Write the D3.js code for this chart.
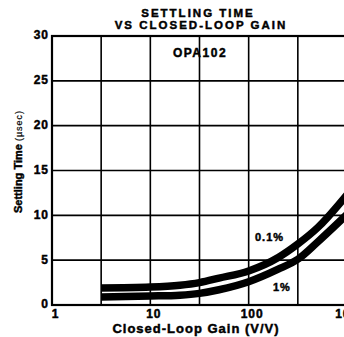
<!DOCTYPE html>
<html>
<head>
<meta charset="utf-8">
<script src="https://cdn.jsdelivr.net/npm/d3@7"></script>
<style>
  body { margin: 0; background: #fff; }
  svg { display: block; font-family: "Liberation Sans", Arial, sans-serif; font-weight: bold; }
  svg text { stroke: #000; stroke-width: 0.45px; }
  .axis path { display: none; }
  .axis text { font-size: 12px; font-weight: bold; fill: #000; letter-spacing: 1px; font-family: "Liberation Sans", Arial, sans-serif; }
</style>
</head>
<body>
<div class="chart"></div>
<script>
// values
const gain = [3.162, 10, 20, 31.62, 50, 100, 200, 316.2, 500, 1000];
const settle01 = [1.9, 2.0, 2.2, 2.5, 3.0, 3.8, 5.3, 6.8, 8.6, 12.3];   // 0.1%
const settle1 = [0.9, 1.0, 1.1, 1.3, 1.7, 2.6, 4.0, 5.1, 7.0, 10.1];    // 1%
const xTicks = [1, 10, 100, 1000];
const xGrid = [1, 3.162, 10, 31.62, 100, 316.2, 1000];
const yTicks = [0, 5, 10, 15, 20, 25, 30];

const width = 344, height = 337;

const svg = d3.select('.chart').append('svg')
    .attr('width', width)
    .attr('height', height);

const xScale = d3.scaleLog().domain([1, 1000]).range([52, 347]);
const yScale = d3.scaleLinear().domain([0, 30]).range([305, 36]);

// grid
svg.append('g').selectAll('line')
    .data(xGrid)
    .enter().append('line')
    .attr('x1', d => xScale(d)).attr('x2', d => xScale(d))
    .attr('y1', yScale(0)).attr('y2', yScale(30))
    .attr('stroke', '#000').attr('stroke-width', 1.6);

svg.append('g').selectAll('line')
    .data(yTicks)
    .enter().append('line')
    .attr('x1', xScale(1)).attr('x2', xScale(1000))
    .attr('y1', d => yScale(d)).attr('y2', d => yScale(d))
    .attr('stroke', '#000').attr('stroke-width', 1.6);

// border
svg.append('rect')
    .attr('x', xScale(1)).attr('y', yScale(30))
    .attr('width', xScale(1000) - xScale(1))
    .attr('height', yScale(0) - yScale(30))
    .attr('fill', 'none').attr('stroke', '#000').attr('stroke-width', 2.2);

// curves
const line = d3.line()
    .x(d => xScale(d[0]))
    .y(d => yScale(d[1]))
    .curve(d3.curveMonotoneX);

[settle01, settle1].forEach(s => {
    svg.append('path')
        .datum(gain.map((g, i) => [g, s[i]]))
        .attr('d', line)
        .attr('fill', 'none')
        .attr('stroke', '#000')
        .attr('stroke-width', 7.5);
});

// axes
const xAxis = d3.axisBottom(xScale)
    .tickValues(xTicks)
    .tickSize(0)
    .tickPadding(4)
    .tickFormat(d3.format('d'));

svg.append('g')
    .attr('class', 'axis x-axis')
    .attr('transform', `translate(3, ${yScale(0)})`)
    .call(xAxis);

const yAxis = d3.axisLeft(yScale)
    .tickValues(yTicks)
    .tickSize(0)
    .tickPadding(3);

svg.append('g')
    .attr('class', 'axis y-axis')
    .attr('transform', `translate(${xScale(1)}, -1)`)
    .call(yAxis);

// titles
svg.append('text')
    .attr('x', 198).attr('y', 17)
    .attr('text-anchor', 'middle')
    .attr('font-size', 11.5)
    .attr('letter-spacing', 2)
    .text('SETTLING TIME');

svg.append('text')
    .attr('x', 201).attr('y', 28.5)
    .attr('text-anchor', 'middle')
    .attr('font-size', 11.5)
    .attr('letter-spacing', 2)
    .text('VS CLOSED-LOOP GAIN');

svg.append('text')
    .attr('x', 200).attr('y', 57)
    .attr('text-anchor', 'middle')
    .attr('font-size', 12)
    .attr('letter-spacing', 1.5)
    .text('OPA102');

svg.append('text')
    .attr('x', 196).attr('y', 333)
    .attr('text-anchor', 'middle')
    .attr('font-size', 13)
    .attr('letter-spacing', 1)
    .text('Closed-Loop Gain (V/V)');

const yTitle = svg.append('text')
    .attr('transform', 'translate(22, 213) rotate(-90)')
    .attr('text-anchor', 'start')
    .attr('font-size', 11);
yTitle.append('tspan').text('Settling Time ');
yTitle.append('tspan')
    .attr('font-size', 9)
    .attr('font-weight', 'normal')
    .attr('letter-spacing', 1)
    .style('stroke-width', '0.2px')
    .text('(µsec)');

// curve labels
svg.append('text')
    .attr('x', 255).attr('y', 241)
    .attr('font-size', 11)
    .attr('letter-spacing', 1)
    .text('0.1%');

svg.append('text')
    .attr('x', 273).attr('y', 291)
    .attr('font-size', 11)
    .attr('letter-spacing', 1)
    .text('1%');
</script>
</body>
</html>
